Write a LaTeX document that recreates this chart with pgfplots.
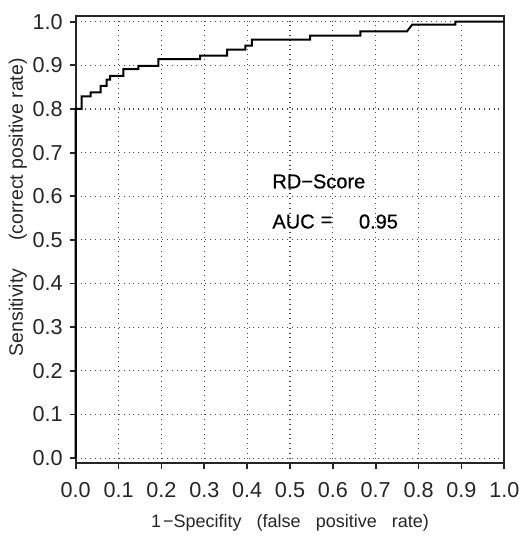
\documentclass[border=0pt]{standalone}
\usepackage{fontspec}
\setmainfont{Liberation Sans}
\newfontfamily\plotfont[FakeBold=0.6]{Liberation Sans}
\usepackage{pgfplots}
\pgfplotsset{compat=1.18}
\begin{document}
\begin{tikzpicture}
\begin{axis}[
  scale only axis,
  width=214.2pt, height=223.65pt,
  xmin=0, xmax=1, ymin=-0.0115, ymax=1.0138,
  xtick={0,0.1,...,1.0}, ytick={0,0.1,...,1.0},
  tick pos=left, tick align=outside,
  major tick length=3pt,
  tick style={line width=0.9pt, black!85},
  axis line style={line width=1pt, black!85},
  grid=major,
  major grid style={dotted, line width=0.6pt, black!70},
  /pgf/number format/assume math mode=true,
  xticklabel style={/pgf/number format/fixed, /pgf/number format/precision=1, /pgf/number format/fixed zerofill, font=\fontsize{10.8}{12}\selectfont, text=black!85, yshift=-3pt},
  yticklabel style={/pgf/number format/fixed, /pgf/number format/precision=1, /pgf/number format/fixed zerofill, font=\fontsize{10.8}{12}\selectfont, text=black!85},
  xlabel={1\kern1pt−Specifity\hspace{7.5pt}(false\hspace{7.5pt}positive\hspace{7.5pt}rate)},
  ylabel={Sensitivity\hspace{14pt}(correct positive rate)},
  xlabel style={at={(axis description cs:0.5,-0.134)}, anchor=center, font=\fontsize{9}{11}\selectfont, text=black!85},
  ylabel style={at={(axis description cs:-0.135,0.572)}, anchor=center, font=\fontsize{9.7}{11}\selectfont, text=black!85},
  clip=false,
]
\addplot[black, line width=1pt, mark=none] coordinates {
(0,0) (0,0.80) (0.014,0.80) (0.014,0.829) (0.035,0.829) (0.035,0.838)
(0.058,0.838) (0.058,0.853) (0.072,0.853) (0.072,0.867) (0.080,0.867)
(0.080,0.876) (0.111,0.876) (0.111,0.891) (0.146,0.891) (0.146,0.899)
(0.193,0.899) (0.193,0.914) (0.290,0.914) (0.290,0.922) (0.353,0.922)
(0.353,0.936) (0.396,0.936) (0.396,0.945) (0.411,0.945) (0.411,0.959)
(0.547,0.959) (0.547,0.968) (0.664,0.968) (0.664,0.978) (0.773,0.978)
(0.785,0.993) (0.886,0.993) (0.886,1.0) (1,1.0)
};
\node[anchor=west, inner sep=0pt, font=\plotfont\fontsize{10}{12}\selectfont, text=black] at (axis cs:0.458,0.634) {RD−Score};
\node[anchor=west, inner sep=0pt, font=\plotfont\fontsize{10}{12}\selectfont, text=black] at (axis cs:0.458,0.542) {AUC};
\node[anchor=center, inner sep=0pt, font=\plotfont\fontsize{10}{12}\selectfont, text=black] at (axis cs:0.585,0.542) {=};
\node[anchor=west, inner sep=0pt, font=\plotfont\fontsize{10}{12}\selectfont, text=black] at (axis cs:0.660,0.542) {0.95};
\path (rel axis cs:-0.1767,-0.174) rectangle (rel axis cs:1.028,1.035);
\end{axis}
\end{tikzpicture}
\end{document}
